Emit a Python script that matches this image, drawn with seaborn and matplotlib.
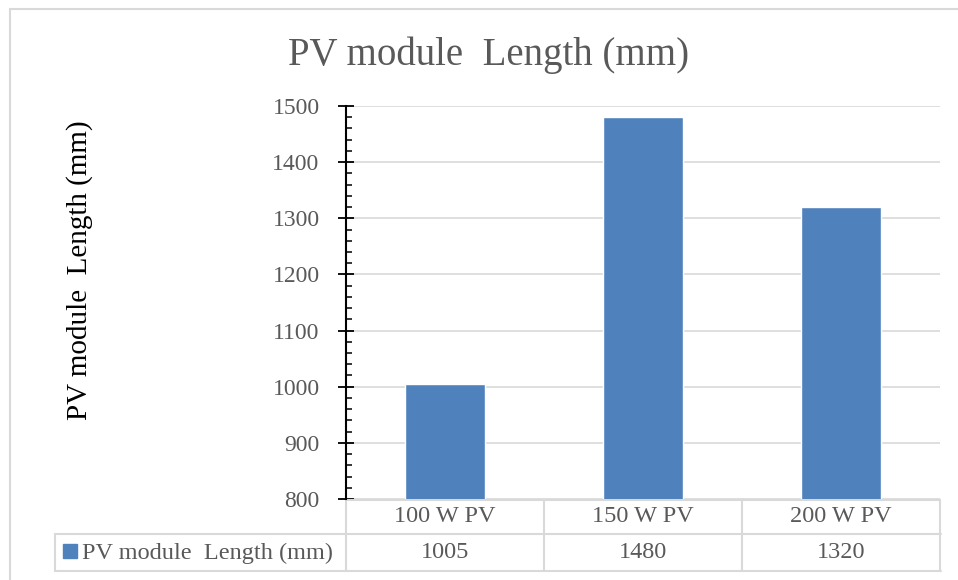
import matplotlib
matplotlib.use("Agg")
import matplotlib.pyplot as plt
import seaborn as sns
import pandas as pd
from matplotlib.lines import Line2D
from matplotlib.patches import Rectangle
from matplotlib.ticker import MultipleLocator
import matplotlib.transforms as mtransforms

categories = ["100 W PV", "150 W PV", "200 W PV"]
values = [1005, 1480, 1320]
series_name = "PV module  Length (mm)"
title = "PV module  Length (mm)"
ylabel = "PV module  Length (mm)"
yticks = [800, 900, 1000, 1100, 1200, 1300, 1400, 1500]

sns.set_theme(style="white")
plt.rcParams['font.family'] = ['Liberation Serif', 'DejaVu Serif']

W, H = 958, 580
fig = plt.figure(figsize=(W / 100, H / 100), dpi=100)

def fx(px):
    return px / W

def fy(py):
    return 1 - py / H

ax = fig.add_axes([fx(346), fy(499), fx(940) - fx(346), fy(106) - fy(499)])

df = pd.DataFrame({"cat": categories, "val": values})
bar_color = "#4F81BD"
sns.barplot(data=df, x="cat", y="val", color=bar_color, width=0.40,
            saturation=1, ax=ax, zorder=3)

ax.set_xlim(-0.5, len(categories) - 0.5)
ax.set_ylim(yticks[0], yticks[-1])
ax.set_yticks(yticks)
ax.yaxis.set_minor_locator(MultipleLocator(20))
ax.set_xticks([])
ax.set_xlabel("")
ax.set_ylabel("")
ax.grid(axis="y", color="#D9D9D9", linewidth=1.2, zorder=0)
for s in ["top", "right", "bottom"]:
    ax.spines[s].set_visible(False)
ax.spines["left"].set_color("black")
ax.spines["left"].set_linewidth(1.5)
ax.tick_params(axis="y", which="major", direction="inout", length=12, width=1.3,
               color="black", labelsize=17, labelcolor="#595959", pad=13, left=True)
ax.tick_params(axis="y", which="minor", direction="in", length=4, width=1.1,
               color="black", left=True)

# Title and y label
fig.text(fx(489), fy(55), title, ha="center", va="center", fontsize=28, color="#595959")
fig.text(fx(80), fy(270), ylabel, ha="center", va="center", rotation=90,
         fontsize=21, color="black")

# Data table
grid_c = "#D9D9D9"
tb = mtransforms.blended_transform_factory(ax.transData, fig.transFigure)
edges = [i - 0.5 for i in range(len(categories) + 1)]
y_top, y_mid, y_bot = fy(500), fy(534), fy(571)
lw = 1.5
ax.add_line(Line2D([edges[0], edges[-1]], [y_top, y_top], transform=tb, color=grid_c, lw=lw, clip_on=False))
fig.add_artist(Line2D([fx(55), fx(941)], [y_mid, y_mid], color=grid_c, lw=lw))
fig.add_artist(Line2D([fx(55), fx(941)], [y_bot, y_bot], color=grid_c, lw=lw))
fig.add_artist(Line2D([fx(55), fx(55)], [y_mid, y_bot], color=grid_c, lw=lw))
for e in edges:
    ax.add_line(Line2D([e, e], [y_top, y_bot], transform=tb, color=grid_c, lw=lw, clip_on=False))

for i, (c, v) in enumerate(zip(categories, values)):
    ax.text(i, fy(517), c, transform=tb, ha="center", va="center", fontsize=17.5, color="#595959")
    ax.text(i, fy(553), str(v), transform=tb, ha="center", va="center", fontsize=17.5, color="#595959")

fig.add_artist(Rectangle((fx(63), fy(558)), fx(14), fy(544) - fy(558), color=bar_color))
fig.text(fx(82), fy(553), series_name, ha="left", va="center", fontsize=17.5, color="#595959")

# Outer chart border
fig.add_artist(Line2D([fx(10), fx(958)], [fy(9), fy(9)], color="#D9D9D9", lw=1.5))
fig.add_artist(Line2D([fx(10), fx(10)], [fy(9), fy(580)], color="#D9D9D9", lw=1.5))

fig.savefig("out.png", dpi=100)
